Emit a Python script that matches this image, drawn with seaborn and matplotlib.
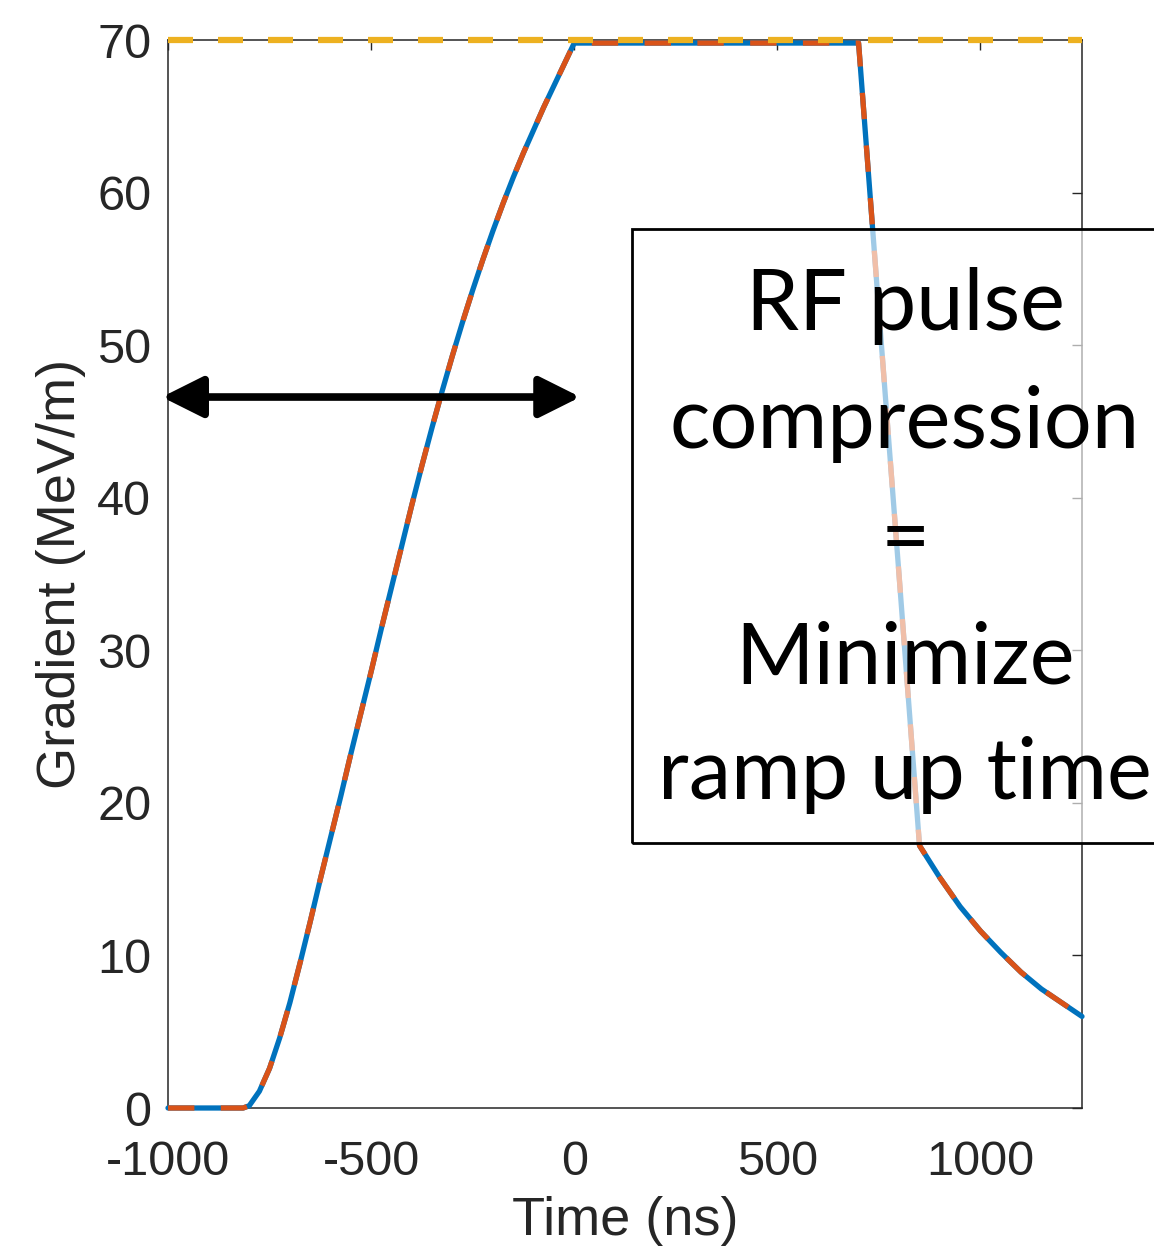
import numpy as np
import pandas as pd
import matplotlib
matplotlib.use("Agg")
import matplotlib.pyplot as plt
import seaborn as sns
from matplotlib.patches import Rectangle

# values
time_ns = [-1000, -815, -800, -775, -750, -725, -700, -675, -650, -625, -600,
           -575, -550, -525, -500, -475, -450, -425, -400, -375, -350, -325,
           -300, -275, -250, -225, -200, -175, -150, -125, -100, -75, -50, -25,
           0, 700, 750, 800, 850, 900, 950, 1000, 1050, 1100, 1150, 1200, 1250]
gradient = [0, 0, 0.15, 1.1, 2.6, 4.6, 6.9, 9.5, 12.2, 15.0, 17.7,
            20.4, 23.2, 25.9, 28.6, 31.4, 34.1, 36.8, 39.5, 42.1, 44.6, 47.0,
            49.3, 51.5, 53.6, 55.6, 57.5, 59.3, 61.0, 62.6, 64.1, 65.6, 67.0, 68.4,
            69.8, 69.8, 52.2, 34.8, 17.2, 15.1, 13.2, 11.6, 10.2, 8.9, 7.8, 6.9, 6.0]
target_time = [-1000, 1250]
target_gradient = [70, 70]
arrow_time = [-1015, 15]
arrow_gradient = 46.6

x_ticks = [-1000, -500, 0, 500, 1000]
y_ticks = [0, 10, 20, 30, 40, 50, 60, 70]
box_lines = ["RF pulse", "compression", "=", "Minimize", "ramp up time"]

blue = "#0072BD"
orange = "#D95319"
yellow = "#EDB120"
grey = "#262626"

sns.set_style("white")
plt.rcParams['font.family'] = ['Liberation Sans', 'DejaVu Sans']
plt.rcParams['axes.unicode_minus'] = False

df = pd.DataFrame({'Time': time_ns, 'Gradient': gradient})
target_df = pd.DataFrame({'Time': target_time, 'Gradient': target_gradient})

fig = plt.figure(figsize=(11.54, 12.51), dpi=100)
ax = fig.add_axes([168 / 1154, 143 / 1251, 914 / 1154, 1068 / 1251])

# both curves lie on top of each other, orange dashed over solid blue
sns.lineplot(data=df, x='Time', y='Gradient', color=blue, lw=3.8, ax=ax,
             clip_on=False, zorder=3)
sns.lineplot(data=df, x='Time', y='Gradient', color=orange, lw=3.8, ax=ax,
             clip_on=False, zorder=4)
ax.lines[-1].set_dashes([5, 5])
sns.lineplot(data=target_df, x='Time', y='Gradient', color=yellow, lw=4.5, ax=ax,
             clip_on=False, zorder=5)
ax.lines[-1].set_dashes([4, 4])

ax.annotate('', xy=(arrow_time[0], arrow_gradient), xytext=(arrow_time[1], arrow_gradient),
            arrowprops=dict(arrowstyle='<|-|>,head_length=2.5,head_width=1.25',
                            lw=5.5, color='k', shrinkA=0, shrinkB=0),
            annotation_clip=False, zorder=6)

ax.set_xlim(-1000, 1250)
ax.set_ylim(0, 70)
ax.set_xticks(x_ticks)
ax.set_yticks(y_ticks)
ax.tick_params(direction='in', length=7, width=1, colors=grey, labelsize=35,
               top=True, right=True, pad=12)
ax.tick_params(axis='x', pad=23)
for s in ax.spines.values():
    s.set_color(grey)
    s.set_linewidth(1.1)
ax.set_xlabel('Time (ns)', fontsize=39, color=grey, labelpad=8)
ax.set_ylabel('Gradient (MeV/m)', fontsize=39, color=grey, labelpad=8)

# semi-transparent box with the message
box = Rectangle((632 / 1154, 408 / 1251), 600 / 1154, 614 / 1251,
                transform=fig.transFigure, facecolor='white', alpha=0.63,
                edgecolor='none', zorder=10)
edge = Rectangle((632 / 1154, 408 / 1251), 600 / 1154, 614 / 1251,
                 transform=fig.transFigure, facecolor='none', edgecolor='black',
                 lw=2, zorder=11)
fig.add_artist(box)
fig.add_artist(edge)

baselines = [330, 448, 565, 683, 799]
for line, yb in zip(box_lines, baselines):
    fig.text(905 / 1154, 1 - yb / 1251, line, ha='center', va='baseline',
             fontsize=61, family=['Lato', 'DejaVu Sans'], color='black', zorder=12)

fig.savefig('out.png', dpi=100)
